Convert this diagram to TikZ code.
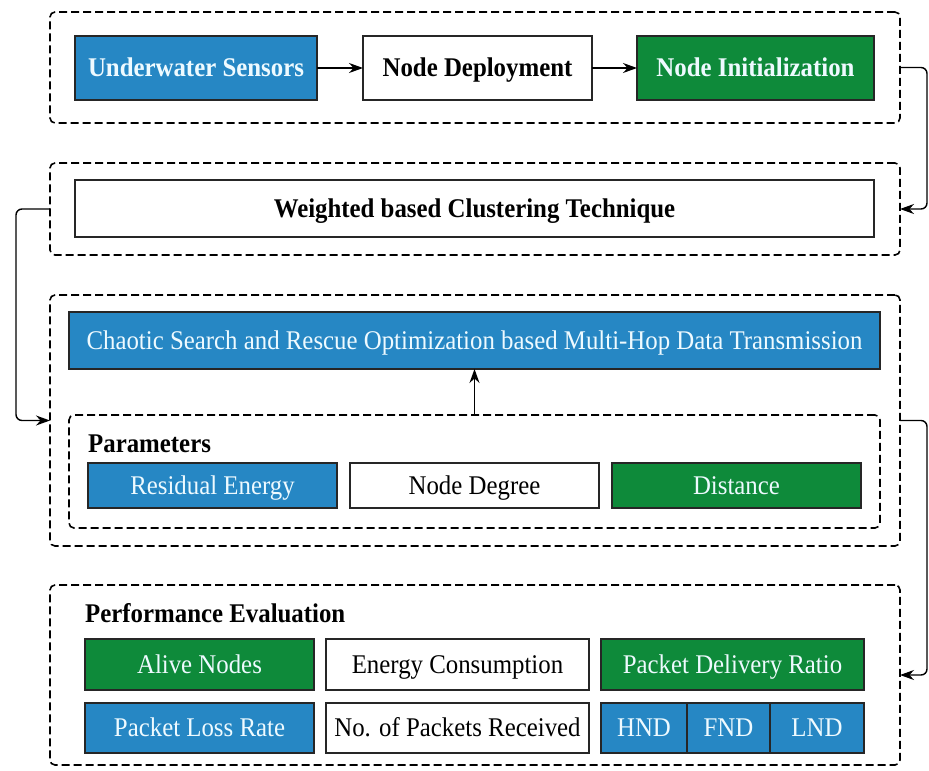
\documentclass[tikz,border=0pt]{standalone}
\usepackage{fontspec}
\setmainfont{Liberation Serif}[FakeStretch=0.92]
\usepackage{tikz}
\usetikzlibrary{arrows, arrows.meta, calc, positioning}
\definecolor{boxblue}{RGB}{38,135,196}
\definecolor{boxgreen}{RGB}{14,138,58}
\definecolor{paletext}{RGB}{238,250,255}
\tikzstyle{frame} = [rectangle, draw=black, line width=1.6pt, dash pattern=on 8pt off 4pt, rounded corners=5pt, inner sep=0pt, outer sep=0pt]
\tikzstyle{block} = [rectangle, draw=black!85, line width=1.2pt, text centered, inner sep=0pt, outer sep=0pt, text height=18pt, text depth=1pt, font=\fontsize{27}{30}\selectfont]
\tikzstyle{bold} = [font=\fontsize{27}{30}\selectfont\bfseries]
\tikzstyle{blue} = [block, fill=boxblue, text=paletext]
\tikzstyle{green} = [block, fill=boxgreen, text=paletext]
\tikzstyle{heading} = [inner sep=0pt, anchor=base west, font=\fontsize{27}{30}\selectfont\bfseries]
\tikzstyle{arrow} = [line width=1.4pt,->,>={Stealth[length=14pt, width=10pt]}]

\begin{document}
\begin{tikzpicture}[x=1pt, y=-1pt]
	\useasboundingbox (0,0) rectangle (929,771);
	% dashed stage frames
	\node (DeployFrame) [frame, minimum width=850pt, minimum height=111pt] at (475,67.5) {};
	\node (ClusterFrame) [frame, minimum width=850pt, minimum height=92pt] at (475,209) {};
	\node (RoutingFrame) [frame, minimum width=850pt, minimum height=251pt] at (475,420.5) {};
	\node (EvalFrame) [frame, minimum width=850pt, minimum height=180pt] at (475,675) {};
	% deployment
	\node (Sensors) [blue, bold, minimum width=242pt, minimum height=64pt] at (196,68) {Underwater Sensors};
	\node (Deployment) [block, bold, minimum width=229pt, minimum height=64pt] at (477.5,68) {Node Deployment};
	\node (Initialization) [green, bold, minimum width=237pt, minimum height=64pt] at (755.5,68) {Node Initialization};
	\draw [arrow] (Sensors) -- (Deployment);
	\draw [arrow] (Deployment) -- (Initialization);
	% clustering
	\node (Clustering) [block, bold, minimum width=799pt, minimum height=57pt] at (474.5,208.5) {Weighted based Clustering Technique};
	% routing
	\node (Routing) [blue, minimum width=811pt, minimum height=57pt] at (474.5,340.5) {Chaotic Search and Rescue Optimization based Multi-Hop Data Transmission};
	\node (ParamFrame) [frame, minimum width=811pt, minimum height=113pt] at (474.5,471.5) {};
	\node (ParamTitle) [heading] at (88,452) {Parameters};
	\node (Residual) [blue, minimum width=249pt, minimum height=45pt] at (212.5,485.5) {Residual Energy};
	\node (Degree) [block, minimum width=249pt, minimum height=45pt, right = 13pt of Residual] {Node Degree};
	\node (Distance) [green, minimum width=249pt, minimum height=45pt, right = 13pt of Degree] {Distance};
	\draw [arrow] (ParamFrame.north) -- (Routing.south);
	% evaluation
	\node (EvalTitle) [heading] at (85,622) {Performance Evaluation};
	\node (Alive) [green, minimum width=229pt, minimum height=51pt] at (199.5,664.5) {Alive Nodes};
	\node (Energy) [block, minimum width=263pt, minimum height=51pt] at (457.5,664.5) {Energy Consumption};
	\node (Delivery) [green, minimum width=263pt, minimum height=51pt] at (732.5,664.5) {Packet Delivery Ratio};
	\node (Loss) [blue, minimum width=229pt, minimum height=50pt] at (199.5,728) {Packet Loss Rate};
	\node (Received) [block, minimum width=263pt, minimum height=50pt] at (457.5,728) {No. of Packets Received};
	\node (HND) [blue, minimum width=86pt, minimum height=50pt] at (644,728) {HND};
	\node (FND) [blue, minimum width=83pt, minimum height=50pt, right = 0pt of HND] {FND};
	\node (LND) [blue, minimum width=94pt, minimum height=50pt, right = 0pt of FND] {LND};
	% links between stages
	\draw [arrow, rounded corners=6pt] (DeployFrame.east) -- ++(27,0) |- (ClusterFrame.east);
	\draw [arrow, rounded corners=6pt] (ClusterFrame.west) -- ++(-34,0) |- (RoutingFrame.west);
	\draw [arrow, rounded corners=6pt] (RoutingFrame.east) -- ++(27,0) |- (EvalFrame.east);
\end{tikzpicture}
\end{document}
